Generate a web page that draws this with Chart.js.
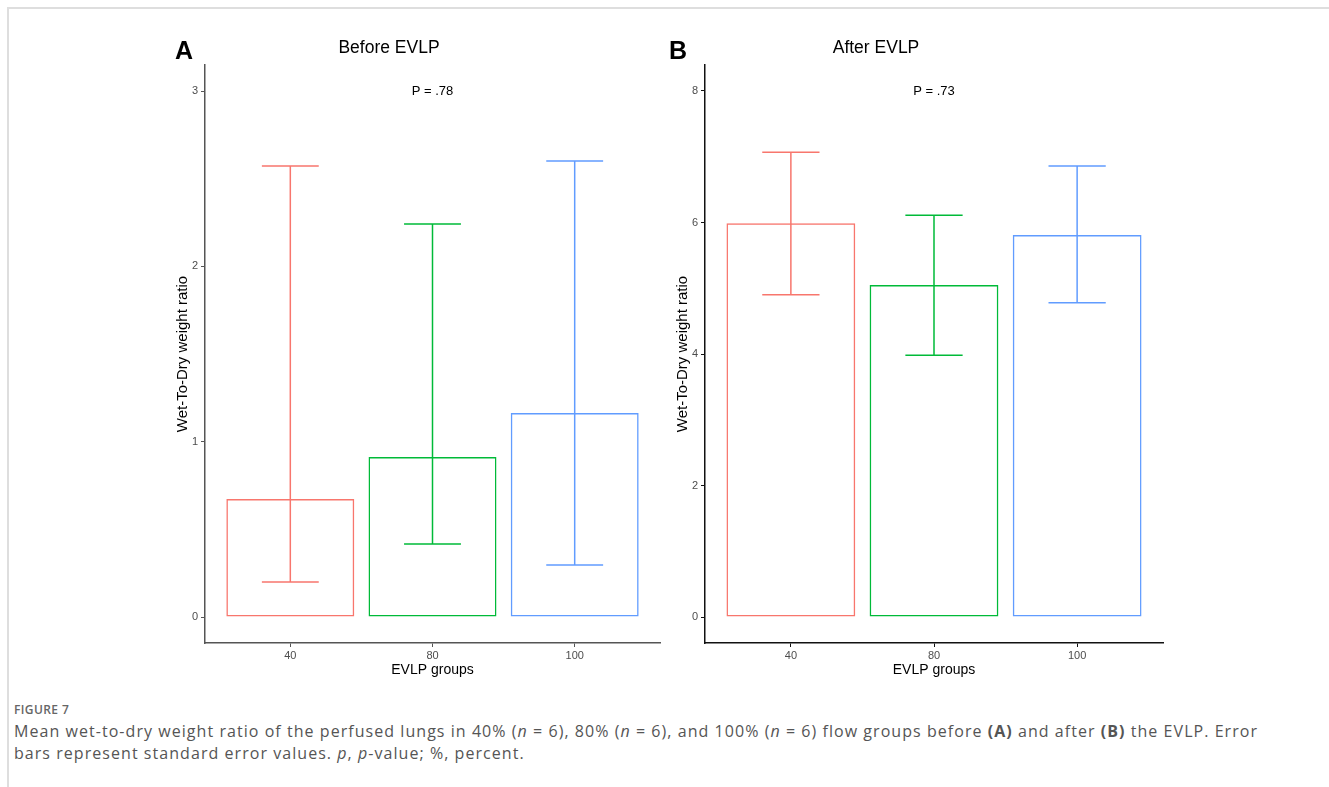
<!DOCTYPE html>
<html>
<head>
<meta charset="utf-8">
<script src="https://cdn.jsdelivr.net/npm/chart.js@4.4.0/dist/chart.umd.min.js"></script>
<style>
  body { margin: 0; background: #fff; width: 1329px; height: 787px; overflow: hidden; position: relative; }
  .frame-top { position: absolute; left: 7px; top: 7px; width: 1322px; height: 2px; background: #dedede; }
  .frame-left { position: absolute; left: 7px; top: 7px; width: 2px; height: 780px; background: #dedede; }
  .panel { position: absolute; top: 0; width: 520px; height: 690px; }
  .caption { position: absolute; left: 14px; top: 700px; width: 1310px; font-family: "Open Sans", sans-serif; color: #555; white-space: nowrap; }
  .caption .fig { font-size: 12px; font-weight: 600; color: #666; letter-spacing: 0.4px; line-height: 20px; }
  .caption .txt { font-size: 16px; line-height: 22px; letter-spacing: 1.05px; }
</style>
</head>
<body>
<div class="frame-top"></div>
<div class="frame-left"></div>
<div class="panel" style="left:150px"><canvas id="chartA"></canvas></div>
<div class="panel" style="left:650px"><canvas id="chartB"></canvas></div>
<div class="caption">
  <div class="fig">FIGURE 7</div>
  <div class="txt">Mean wet-to-dry weight ratio of the perfused lungs in 40% (<i>n</i> = 6), 80% (<i>n</i> = 6), and 100% (<i>n</i> = 6) flow groups before <b>(A)</b> and after <b>(B)</b> the EVLP. Error<br>bars represent standard error values. <i>p</i>, <i>p</i>-value; %, percent.</div>
</div>
<script>
const groups = ['40', '80', '100'];
const groupPos = [1, 2, 3];
const colors = ['#F8766D', '#00BA38', '#619CFF'];

// Before EVLP
const beforeMean = [0.673, 0.913, 1.164];
const beforeLower = [0.20, 0.416, 0.297];
const beforeUpper = [2.573, 2.242, 2.601];
const beforeTicks = [0, 1, 2, 3];

// After EVLP
const afterMean = [5.99, 5.05, 5.81];
const afterLower = [4.90, 3.98, 4.78];
const afterUpper = [7.07, 6.11, 6.86];
const afterTicks = [0, 2, 4, 6, 8];

const errorBars = {
  id: 'errorBars',
  afterDatasetsDraw(chart, args, opts) {
    const ctx = chart.ctx;
    const xs = chart.scales.x, ys = chart.scales.y;
    const half = xs.getPixelForValue(1.2) - xs.getPixelForValue(1);
    ctx.save();
    ctx.lineWidth = 1.5;
    opts.lower.forEach((lo, i) => {
      const x = xs.getPixelForValue(groupPos[i]);
      const yl = ys.getPixelForValue(lo), yu = ys.getPixelForValue(opts.upper[i]);
      ctx.strokeStyle = colors[i];
      ctx.beginPath();
      ctx.moveTo(x, yl); ctx.lineTo(x, yu);
      ctx.moveTo(x - half, yl); ctx.lineTo(x + half, yl);
      ctx.moveTo(x - half, yu); ctx.lineTo(x + half, yu);
      ctx.stroke();
    });
    ctx.restore();
  }
};

const labels = {
  id: 'labels',
  afterDraw(chart, args, opts) {
    const ctx = chart.ctx;
    const xs = chart.scales.x, ys = chart.scales.y;
    ctx.save();
    ctx.fillStyle = '#000';
    ctx.textBaseline = 'middle';
    ctx.textAlign = 'center';
    ctx.font = 'bold 25px "Liberation Sans", Arial, sans-serif';
    ctx.fillText(opts.letter, opts.letterX, 52);
    ctx.font = '17.5px "Liberation Sans", Arial, sans-serif';
    ctx.fillText(opts.title, opts.titleX, 48);
    ctx.font = '13px "Liberation Sans", Arial, sans-serif';
    ctx.fillText(opts.pText, xs.getPixelForValue(opts.pAt[0]), ys.getPixelForValue(opts.pAt[1]));
    ctx.restore();
  }
};

function makeChart(id, mean, lower, upper, yTicks, yMin, yMax, axisColor, padRight, extra) {
  const tickFont = { family: '"Liberation Sans", Arial, sans-serif', size: 11 };
  new Chart(document.getElementById(id), {
    type: 'bar',
    data: {
      datasets: [{
        data: groupPos.map((p, i) => ({ x: p, y: mean[i] })),
        backgroundColor: 'rgba(255,255,255,0)',
        borderColor: colors,
        borderWidth: 1.5,
        borderSkipped: false,
        barPercentage: 0.9,
        categoryPercentage: 1.0
      }]
    },
    options: {
      responsive: true,
      maintainAspectRatio: false,
      animation: false,
      layout: { padding: { left: 0, right: padRight, top: 65, bottom: 0 } },
      plugins: {
        legend: { display: false },
        tooltip: { enabled: false },
        errorBars: { lower: lower, upper: upper },
        labels: extra
      },
      scales: {
        x: {
          type: 'linear',
          min: 0.4,
          max: 3.6,
          offset: false,
          afterBuildTicks: s => { s.ticks = groupPos.map(v => ({ value: v })); },
          afterFit: s => { s.height = 47; },
          ticks: { callback: v => groups[groupPos.indexOf(v)], color: '#4d4d4d', font: tickFont, padding: 2, maxRotation: 0 },
          grid: { offset: false, drawOnChartArea: false, drawTicks: true, tickLength: 4, color: axisColor, lineWidth: 1 },
          border: { display: true, color: axisColor, width: 1.5 },
          title: { display: true, text: 'EVLP groups', color: '#000', font: { family: '"Liberation Sans", Arial, sans-serif', size: 14 }, padding: { top: 0, bottom: 11 } }
        },
        y: {
          min: yMin,
          max: yMax,
          afterBuildTicks: s => { s.ticks = yTicks.map(v => ({ value: v })); },
          afterFit: s => { s.width = 55; },
          ticks: { color: '#4d4d4d', font: tickFont, padding: 3 },
          grid: { drawOnChartArea: false, drawTicks: true, tickLength: 4, color: axisColor, lineWidth: 1 },
          border: { display: true, color: axisColor, width: 1.5 },
          title: { display: true, text: 'Wet-To-Dry weight ratio', color: '#000', font: { family: '"Liberation Sans", Arial, sans-serif', size: 15 }, padding: { top: 24, bottom: 0 } }
        }
      }
    },
    plugins: [errorBars, labels]
  });
}

makeChart('chartA', beforeMean, beforeLower, beforeUpper, beforeTicks, -0.148, 3.149, '#555', 10,
  { letter: 'A', letterX: 34, title: 'Before EVLP', titleX: 239, pText: 'P = .78', pAt: [2, 3] });
makeChart('chartB', afterMean, afterLower, afterUpper, afterTicks, -0.395, 8.395, '#111', 7,
  { letter: 'B', letterX: 28, title: 'After EVLP', titleX: 226, pText: 'P = .73', pAt: [2, 8] });
</script>
</body>
</html>
